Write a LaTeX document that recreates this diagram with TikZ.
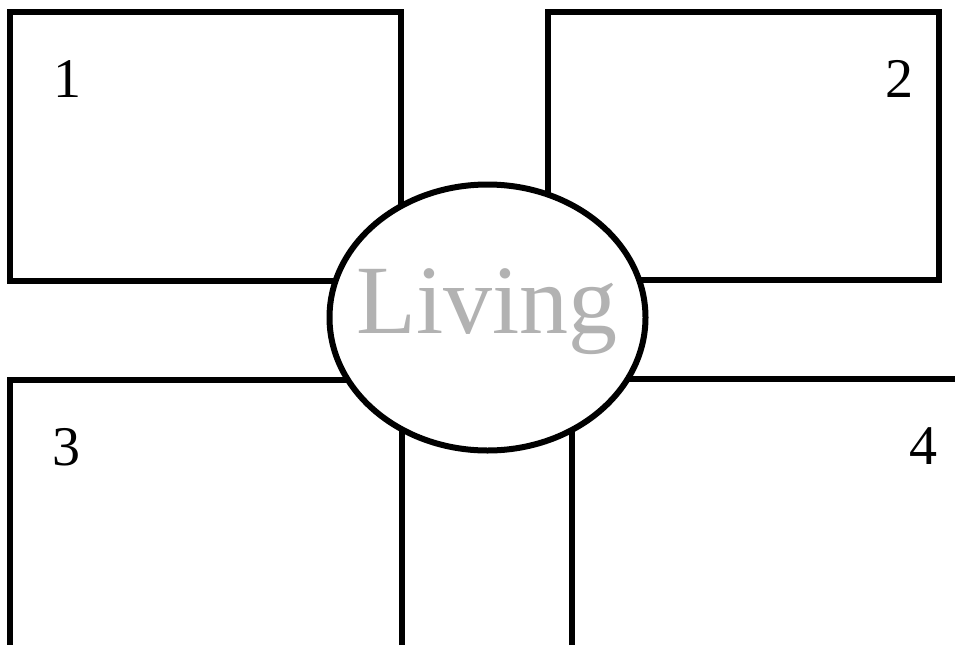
\documentclass[tikz,border=0pt]{standalone}
\usepackage{fontspec}
\setmainfont{Liberation Serif}
\usetikzlibrary{shapes.geometric}
\begin{document}
\begin{tikzpicture}
  [x=1pt,y=-1pt,line width=6pt,every node/.style={inner sep=0pt},
   roomno/.style={font=\fontsize{56}{60}\selectfont}]
  \useasboundingbox (0,0) rectangle (955,645);

  % rooms
  \draw (10,12) rectangle (401,281);
  \draw (548,12) rectangle (939,280);
  \draw (402,645) -- (402,380) -- (10,380) -- (10,645);
  \draw (572,645) -- (572,379) -- (955,379);

  \node (n1) at (67,79) [roomno] {1};
  \node (n2) at (899,79) [roomno] {2};
  \node (n3) at (66,447) [roomno] {3};
  \node (n4) at (923,446) [roomno] {4};

  % living room
  \node (living) at (487.5,317.5) [ellipse,draw,fill=white,minimum width=316pt,minimum height=266pt] {};
  \node (lbl) at (487,333) [anchor=base,text=black!30,font=\fontsize{98}{100}\selectfont] {Living};
\end{tikzpicture}
\end{document}
